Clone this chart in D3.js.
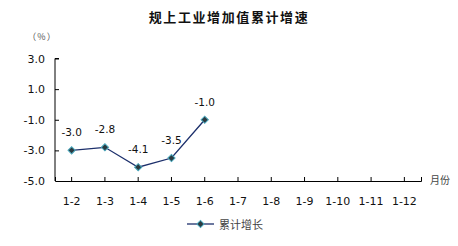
<!DOCTYPE html>
<html>
<head>
<meta charset="utf-8">
<script src="https://cdn.jsdelivr.net/npm/d3@7"></script>
<style>
  body { margin: 0; background: #fff; }
  text { font-family: "DejaVu Sans", sans-serif; }
</style>
</head>
<body>
<script>
// data
let months = ['1-2', '1-3', '1-4', '1-5', '1-6', '1-7', '1-8', '1-9', '1-10', '1-11', '1-12']
let growth = [-3.0, -2.8, -4.1, -3.5, -1.0]
let yTicks = [3.0, 1.0, -1.0, -3.0, -5.0]

let width = 458
let height = 246
let plotLeft = 55, plotRight = 421, plotTop = 58.5, plotBottom = 181

// plain hyphen instead of the unicode minus d3.format gives
let fmt = v => d3.format('.1f')(v).replace('\u2212', '-')

let svg = d3.select('body').append('svg')
  .attr('width', width)
  .attr('height', height)

let x = d3.scaleBand().domain(months).range([plotLeft, plotRight])
let y = d3.scaleLinear().domain([-5, 3]).range([plotBottom, plotTop])
let cx = d => x(d) + x.bandwidth() / 2

// title
svg.append('text')
  .attr('x', 229).attr('y', 22)
  .attr('text-anchor', 'middle')
  .style('font-family', '"Noto Sans CJK SC", sans-serif')
  .style('font-weight', 'bold')
  .style('font-size', '13px')
  .style('letter-spacing', '1.6px')
  .attr('fill', '#111')
  .text('规上工业增加值累计增速')

svg.append('text')
  .attr('x', 42).attr('y', 40)
  .attr('text-anchor', 'middle')
  .style('font-family', '"Noto Sans CJK SC", sans-serif')
  .style('font-size', '9px')
  .style('letter-spacing', '1px')
  .attr('fill', '#555')
  .text('（%）')

// y axis
let yAxis = d3.axisRight(y).tickValues(yTicks).tickSize(4).tickFormat(fmt)
let gy = svg.append('g').attr('transform', `translate(${plotLeft},0)`).call(yAxis)
gy.select('.domain').attr('d', `M4,${plotTop}H0V${plotBottom}`).attr('stroke', '#000')
gy.selectAll('.tick text')
  .attr('x', -10).attr('text-anchor', 'end')
  .style('font-size', '11px').attr('fill', '#111')
gy.selectAll('.tick line').filter(d => d === -5).remove()

// x axis
let xAxis = d3.axisTop(x).tickSize(4).tickSizeOuter(4)
let gx = svg.append('g').attr('transform', `translate(0,${plotBottom})`).call(xAxis)
gx.select('.domain').attr('stroke', '#000')
gx.selectAll('.tick text')
  .attr('y', 24).attr('text-anchor', 'middle')
  .style('font-size', '11px').attr('fill', '#111')

svg.append('text')
  .attr('x', 430).attr('y', 184)
  .style('font-family', '"Noto Sans CJK SC", sans-serif')
  .style('font-size', '10px')
  .attr('fill', '#444')
  .text('月份')

// line
let points = growth.map((v, i) => [months[i], v])
let line = d3.line().x(d => cx(d[0])).y(d => y(d[1]))
svg.append('path')
  .datum(points)
  .attr('d', line)
  .attr('fill', 'none')
  .attr('stroke', '#1c2f6b')
  .attr('stroke-width', 1.3)

// square turned 45 degrees
let diamond = d3.symbol().type(d3.symbolSquare).size(26)
svg.selectAll('.marker')
  .data(points)
  .join('path')
  .attr('class', 'marker')
  .attr('transform', d => `translate(${cx(d[0])},${y(d[1])}) rotate(45)`)
  .attr('d', diamond)
  .attr('fill', '#2b3a40')
  .attr('stroke', '#4aa8bd')
  .attr('stroke-width', 1)

svg.selectAll('.lbl')
  .data(points)
  .join('text')
  .attr('class', 'lbl')
  .attr('x', d => cx(d[0]))
  .attr('y', d => y(d[1]) - 14)
  .attr('text-anchor', 'middle')
  .style('font-size', '10.5px')
  .attr('fill', '#111')
  .text(d => fmt(d[1]))

// legend
svg.append('line')
  .attr('x1', 187).attr('x2', 214)
  .attr('y1', 224).attr('y2', 224)
  .attr('stroke', '#1c2f6b').attr('stroke-width', 1.3)
svg.append('path')
  .attr('transform', 'translate(200.5,224) rotate(45)')
  .attr('d', diamond)
  .attr('fill', '#2b3a40')
  .attr('stroke', '#4aa8bd')
svg.append('text')
  .attr('x', 219).attr('y', 228.5)
  .style('font-family', '"Noto Sans CJK SC", sans-serif')
  .style('font-size', '11px')
  .attr('fill', '#444')
  .text('累计增长')
</script>
</body>
</html>
